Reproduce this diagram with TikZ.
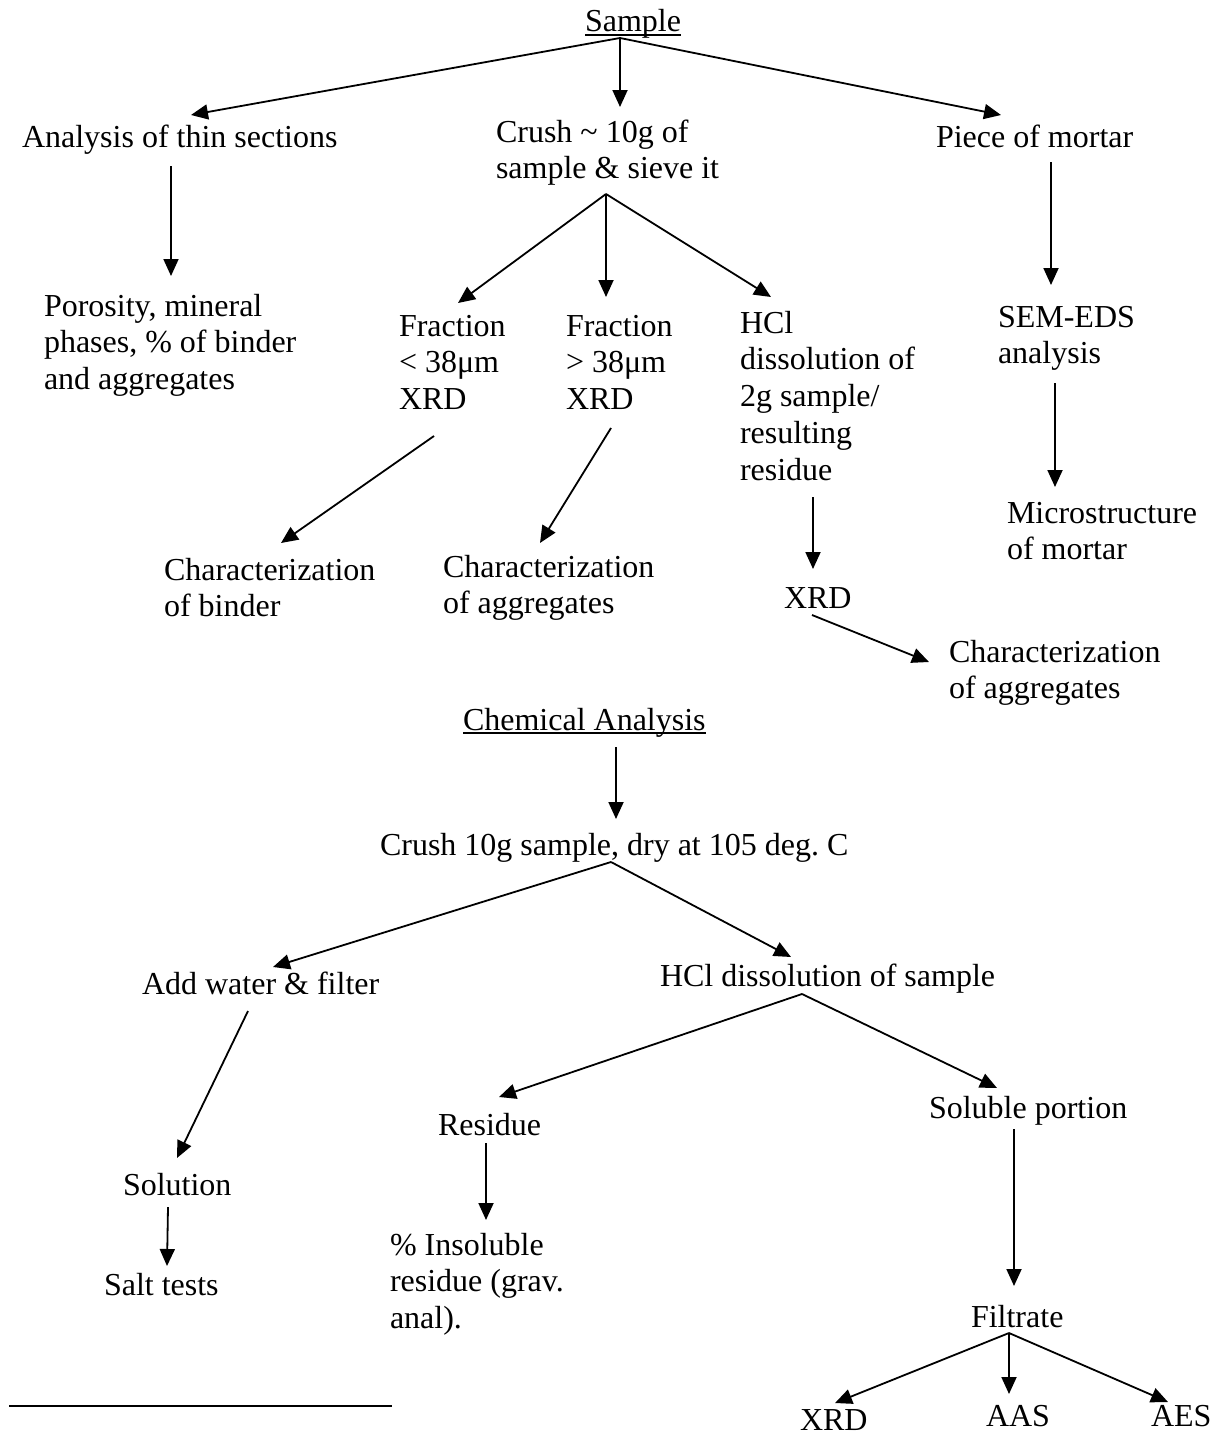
\documentclass[tikz,border=0pt]{standalone}
\usepackage{fontspec}
\setmainfont{Liberation Serif}
\usetikzlibrary{arrows.meta}
\frenchspacing
\newcommand\mylines[1]{\begin{tabular}[t]{@{}l@{}}#1\end{tabular}}
\tikzset{
  txt/.style={inner sep=0pt, outer sep=0pt, anchor=base west, font=\fontsize{32}{36.8}\selectfont},
  arr/.style={line width=1.8pt, -{Triangle[length=17pt,width=15pt]}},
  uline/.style={line width=1.5pt}
}
\begin{document}
\begin{tikzpicture}[x=1pt,y=-1pt]
\fill[white] (0,0) rectangle (1222,1437);
\useasboundingbox (0,0) rectangle (1222,1437);

% ---------- top part ----------
\node[txt] (sample) at (585,32) {Sample};
\draw[uline] ([yshift=-3pt]sample.base west) -- ([yshift=-3pt]sample.base east);

\node[txt] (analysis) at (22,147) {Analysis of thin sections};
\node[txt] (crush1) at (496,142) {\mylines{Crush \textasciitilde{} 10g of\\sample \& sieve it}};
\node[txt] (piece) at (936,147) {Piece of mortar};

\node[txt] (porosity) at (44,316) {\mylines{Porosity, mineral\\phases, \% of binder\\and aggregates}};
\node[txt] (frac1) at (399,336) {\mylines{Fraction\\< 38μm\\XRD}};
\node[txt] (frac2) at (566,336) {\mylines{Fraction\\> 38μm\\XRD}};
\node[txt] (hcl1) at (740,333) {\mylines{HCl\\dissolution of\\2g sample/\\resulting\\residue}};
\node[txt] (sem) at (998,327) {\mylines{SEM-EDS\\analysis}};

\node[txt] (charb) at (164,580) {\mylines{Characterization\\of binder}};
\node[txt] (chara1) at (443,577) {\mylines{Characterization\\of aggregates}};
\node[txt] (xrd1) at (784,608) {XRD};
\node[txt] (micro) at (1007,523) {\mylines{Microstructure\\of mortar}};
\node[txt] (chara2) at (949,662) {\mylines{Characterization\\of aggregates}};

% ---------- chemical part ----------
\node[txt] (chem) at (463,730) {Chemical Analysis};
\draw[uline] ([yshift=-3pt]chem.base west) -- ([yshift=-3pt]chem.base east);

\node[txt] (crush2) at (380,855) {Crush 10g sample, dry at 105 deg. C};
\node[txt] (addw) at (142,994) {Add water \& filter};
\node[txt] (hcl2) at (660,986) {HCl dissolution of sample};
\node[txt] (residue) at (438,1135) {Residue};
\node[txt] (soluble) at (929,1118) {Soluble portion};
\node[txt] (solution) at (123,1195) {Solution};
\node[txt] (salt) at (104,1295) {Salt tests};
\node[txt] (insol) at (390,1255) {\mylines{\% Insoluble\\residue (grav.\\anal).}};
\node[txt] (filtrate) at (971,1327) {Filtrate};
\node[txt] (xrd2) at (800,1430) {XRD};
\node[txt] (aas) at (986,1426) {AAS};
\node[txt] (aes) at (1151,1426) {AES};

% ---------- connectors ----------
\draw[arr] ([shift={(35,6)}]sample.base west) -- ([shift={(169,-32)}]analysis.base west);
\draw[arr] ([shift={(35,6)}]sample.base west) -- ([shift={(124,-35)}]crush1.base west);
\draw[arr] ([shift={(35,6)}]sample.base west) -- ([shift={(65,-32)}]piece.base west);

\draw[arr] ([shift={(149,19)}]analysis.base west) -- ([shift={(127,-40)}]porosity.base west);
\draw[arr] ([shift={(115,15)}]piece.base west) -- ([shift={(53,-42)}]sem.base west);

\draw[arr] ([shift={(110,52)}]crush1.base west) -- ([shift={(59,-33)}]frac1.base west);
\draw[arr] ([shift={(110,52)}]crush1.base west) -- ([shift={(40,-39)}]frac2.base west);
\draw[arr] ([shift={(110,52)}]crush1.base west) -- ([shift={(31,-36)}]hcl1.base west);

\draw[arr] ([shift={(35,100)}]frac1.base west) -- ([shift={(117,-37)}]charb.base west);
\draw[arr] ([shift={(45,92)}]frac2.base west) -- ([shift={(97,-34)}]chara1.base west);
\draw[arr] ([shift={(73,164)}]hcl1.base west) -- ([shift={(29,-39)}]xrd1.base west);
\draw[arr] ([shift={(57,56)}]sem.base west) -- ([shift={(48,-36)}]micro.base west);
\draw[arr] ([shift={(28,7)}]xrd1.base west) -- ([shift={(-20,0)}]chara2.base west);

\draw[arr] ([shift={(153,17)}]chem.base west) -- ([shift={(236,-36)}]crush2.base west);
\draw[arr] ([shift={(231,7)}]crush2.base west) -- ([shift={(131,-27)}]addw.base west);
\draw[arr] ([shift={(231,7)}]crush2.base west) -- ([shift={(131,-29)}]hcl2.base west);

\draw[arr] ([shift={(106,17)}]addw.base west) -- ([shift={(54,-37)}]solution.base west);
\draw[arr] ([shift={(45,12)}]solution.base west) -- ([shift={(63,-29)}]salt.base west);

\draw[arr] ([shift={(142,8)}]hcl2.base west) -- ([shift={(61,-38)}]residue.base west);
\draw[arr] ([shift={(142,8)}]hcl2.base west) -- ([shift={(68,-30)}]soluble.base west);
\draw[arr] ([shift={(48,8)}]residue.base west) -- ([shift={(96,-35)}]insol.base west);
\draw[arr] ([shift={(85,11)}]soluble.base west) -- ([shift={(43,-41)}]filtrate.base west);

\draw[arr] ([shift={(38,6)}]filtrate.base west) -- ([shift={(35,-27)}]xrd2.base west);
\draw[arr] ([shift={(38,6)}]filtrate.base west) -- ([shift={(23,-32)}]aas.base west);
\draw[arr] ([shift={(38,6)}]filtrate.base west) -- ([shift={(17,-24)}]aes.base west);

% footnote rule
\coordinate (ruleL) at (9,1406);
\coordinate (ruleR) at (392,1406);
\draw[line width=1.5pt] (ruleL) -- (ruleR);
\end{tikzpicture}
\end{document}
